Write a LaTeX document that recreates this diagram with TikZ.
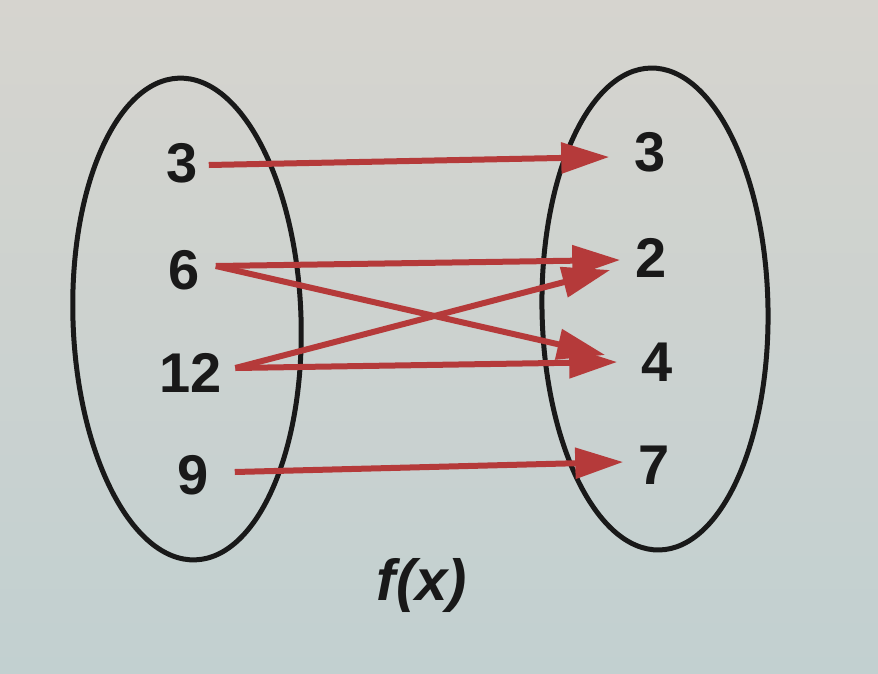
\documentclass[tikz,border=0pt]{standalone}
\usepackage{fontspec}
\setmainfont{Liberation Sans}
\usetikzlibrary{arrows.meta,calc}
\definecolor{bgtop}{HTML}{D6D4CF}
\definecolor{bgbot}{HTML}{C2D0D0}
\definecolor{arrred}{HTML}{B53A3A}
\begin{document}
\begin{tikzpicture}[x=1pt,y=-1pt,
  setell/.style={draw=black!90,line width=5pt},
  num/.style={font=\fontsize{56}{60}\selectfont\bfseries,inner sep=0pt,text=black!90},
  maparrow/.style={draw=arrred,line width=6pt,-{Triangle[length=48pt,width=30pt,fill=arrred]}}]
\shade[top color=bgtop,bottom color=bgbot] (0,0) rectangle (878,673);
\useasboundingbox (0,0) rectangle (878,673);
\draw[setell,rotate around={2:(187,319)}] (187,319) ellipse [x radius=114, y radius=241];
\draw[setell,rotate around={1:(655,309)}] (655,309) ellipse [x radius=113, y radius=241];
\node[num] (l3) at (182,163) {3};
\node[num] (l6) at (184,270) {6};
\node[num] (l12) at (191,373) {12};
\node[num] (l9) at (193,475) {9};
\node[num] (r3) at (650,152) {3};
\node[num] (r2) at (651,258) {2};
\node[num] (r4) at (657,362) {4};
\node[num] (r7) at (654,465) {7};
\node[font=\fontsize{58}{60}\selectfont\bfseries\itshape,inner sep=0pt,text=black!90] (fx) at (422,585) {f(x)};
\draw[maparrow] ($(l3.east)+(11,2)$) -- ($(r3.west)+(-25,5)$);
\draw[maparrow] ($(l6.east)+(16,-4)$) -- ($(r2.west)+(-15,2)$);
\draw[maparrow] ($(l6.east)+(16,-4)$) -- ($(r4.west)+(-36,-7)$);
\draw[maparrow] ($(l12.east)+(13,-5)$) -- ($(r2.west)+(-25,12)$);
\draw[maparrow] ($(l12.east)+(13,-5)$) -- ($(r4.west)+(-24,0)$);
\draw[maparrow] ($(l9.east)+(26,-3)$) -- ($(r7.west)+(-15,-3)$);
\end{tikzpicture}
\end{document}
